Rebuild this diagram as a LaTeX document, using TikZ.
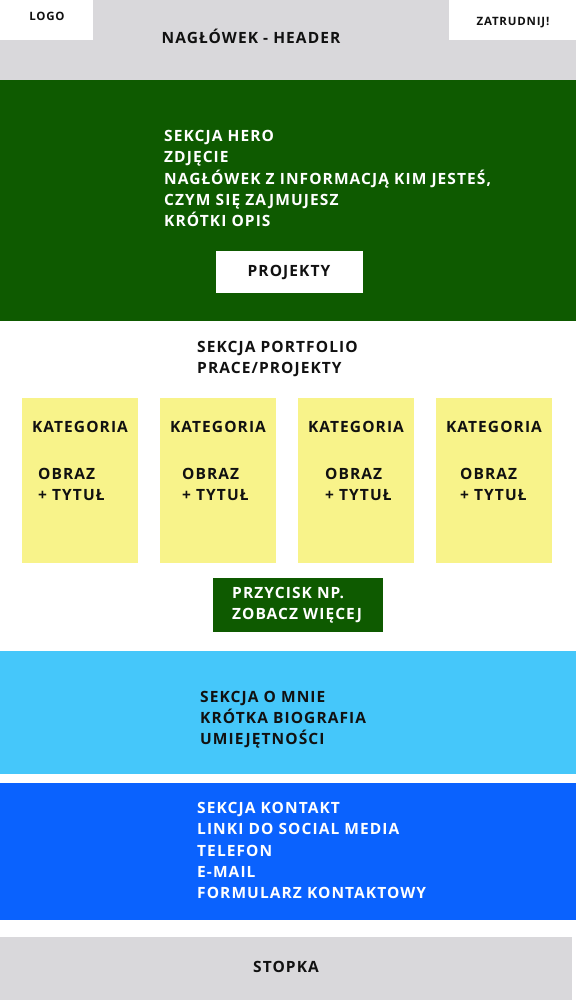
\documentclass[tikz,border=0pt]{standalone}
\usepackage{fontspec}
\setmainfont{Open Sans}[LetterSpace=7]
\definecolor{hdrgray}{HTML}{D9D8DB}
\definecolor{herogreen}{HTML}{0E5A00}
\definecolor{cardyellow}{HTML}{F8F38A}
\definecolor{aboutblue}{HTML}{45C7FA}
\definecolor{contactblue}{HTML}{0A62FE}
\definecolor{ink}{HTML}{111111}
\begin{document}
\begin{tikzpicture}[x=1pt,y=-1pt,
  txt/.style={font=\fontsize{15.5}{21.2}\selectfont\bfseries, text=ink, inner sep=0pt, align=left},
  wtxt/.style={txt, text=white},
  smalltxt/.style={txt, font=\fontsize{11.5}{14}\selectfont\bfseries},
  card/.style={fill=cardyellow}
]
\useasboundingbox (0,0) rectangle (576,1000);
\fill[white] (0,0) rectangle (576,1000);
% header
\fill[hdrgray] (0,0) rectangle (576,80);
\fill[white] (0,0) rectangle (93,40);
\fill[white] (449,0) rectangle (576,40);
\node[smalltxt, anchor=base] (logo) at (47,20.2) {LOGO};
\node[smalltxt, anchor=base] (hire) at (513,25.2) {ZATRUDNIJ!};
\node[txt, anchor=base] (header) at (251,43.5) {NAGŁÓWEK - HEADER};
% hero
\fill[herogreen] (0,80) rectangle (576,321);
\node[wtxt, anchor=base west] (hero) at (164,226.5) {SEKCJA HERO\\ZDJĘCIE\\NAGŁÓWEK Z INFORMACJĄ KIM JESTEŚ,\\CZYM SIĘ ZAJMUJESZ\\KRÓTKI OPIS};
\fill[white] (216,251) rectangle (363,293);
\node[txt, anchor=base] (projekty) at (289,276.5) {PROJEKTY};
% portfolio
\node[txt, anchor=base west] (portfolio) at (197,373.5) {SEKCJA PORTFOLIO\\PRACE/PROJEKTY};
\foreach \i/\x/\ox in {1/22/38, 2/160/182, 3/298/325, 4/436/460} {
  \fill[card] (\x,398) rectangle ++(116,165);
  \node[txt, anchor=base] (kat\i) at (\x+58,432.5) {KATEGORIA};
  \node[txt, anchor=base west] (obr\i) at (\ox,500.5) {OBRAZ\\+ TYTUŁ};
}
\fill[herogreen] (213,578) rectangle (383,632);
\node[wtxt, anchor=base west] (more) at (232,619.5) {PRZYCISK NP.\\ZOBACZ WIĘCEJ};
% about
\fill[aboutblue] (0,651) rectangle (576,774);
\node[txt, anchor=base west] (about) at (200,744.5) {SEKCJA O MNIE\\KRÓTKA BIOGRAFIA\\UMIEJĘTNOŚCI};
% contact
\fill[contactblue] (0,783) rectangle (576,920);
\node[wtxt, anchor=base west] (contact) at (197,898.5) {SEKCJA KONTAKT\\LINKI DO SOCIAL MEDIA\\TELEFON\\E-MAIL\\FORMULARZ KONTAKTOWY};
% footer
\fill[hdrgray] (0,937) rectangle (572,1000);
\node[txt, anchor=base] (footer) at (286,972.5) {STOPKA};
\end{tikzpicture}
\end{document}
